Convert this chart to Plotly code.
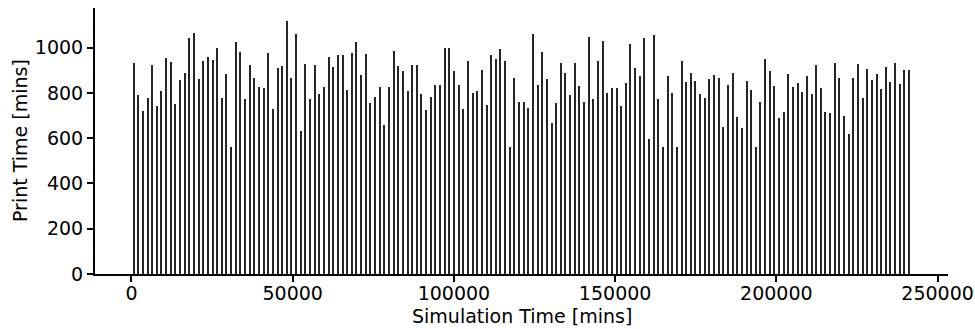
import plotly.graph_objects as go

# Simulation time (mins) of each print job start: one job per day, first at 720
sim_time = [
    720, 2160, 3600, 5040, 6480, 7920, 9360, 10800, 12240, 13680,
    15120, 16560, 18000, 19440, 20880, 22320, 23760, 25200, 26640, 28080,
    29520, 30960, 32400, 33840, 35280, 36720, 38160, 39600, 41040, 42480,
    43920, 45360, 46800, 48240, 49680, 51120, 52560, 54000, 55440, 56880,
    58320, 59760, 61200, 62640, 64080, 65520, 66960, 68400, 69840, 71280,
    72720, 74160, 75600, 77040, 78480, 79920, 81360, 82800, 84240, 85680,
    87120, 88560, 90000, 91440, 92880, 94320, 95760, 97200, 98640, 100080,
    101520, 102960, 104400, 105840, 107280, 108720, 110160, 111600, 113040, 114480,
    115920, 117360, 118800, 120240, 121680, 123120, 124560, 126000, 127440, 128880,
    130320, 131760, 133200, 134640, 136080, 137520, 138960, 140400, 141840, 143280,
    144720, 146160, 147600, 149040, 150480, 151920, 153360, 154800, 156240, 157680,
    159120, 160560, 162000, 163440, 164880, 166320, 167760, 169200, 170640, 172080,
    173520, 174960, 176400, 177840, 179280, 180720, 182160, 183600, 185040, 186480,
    187920, 189360, 190800, 192240, 193680, 195120, 196560, 198000, 199440, 200880,
    202320, 203760, 205200, 206640, 208080, 209520, 210960, 212400, 213840, 215280,
    216720, 218160, 219600, 221040, 222480, 223920, 225360, 226800, 228240, 229680,
    231120, 232560, 234000, 235440, 236880, 238320, 239760, 241200,
]

# Print time (mins) of each job
print_time = [
    933, 790, 718, 777, 925, 740, 809, 954, 935, 753,
    856, 889, 1044, 1066, 860, 939, 958, 945, 998, 777,
    882, 560, 1027, 982, 771, 923, 864, 824, 820, 978,
    727, 908, 918, 1118, 864, 1062, 630, 929, 771, 925,
    796, 827, 960, 914, 966, 966, 815, 975, 1025, 880,
    970, 755, 781, 827, 656, 827, 984, 918, 898, 809,
    925, 922, 794, 725, 783, 836, 833, 1000, 1000, 898,
    833, 727, 942, 801, 808, 901, 747, 966, 951, 994,
    942, 560, 867, 762, 762, 734, 1059, 837, 982, 862,
    667, 756, 933, 889, 790, 933, 830, 761, 1048, 771,
    939, 1029, 801, 820, 823, 740, 842, 1015, 910, 874,
    1044, 598, 1054, 774, 560, 874, 801, 560, 939, 848,
    889, 854, 794, 778, 862, 880, 868, 651, 837, 889,
    694, 644, 854, 811, 560, 759, 948, 895, 830, 687,
    715, 885, 827, 845, 802, 876, 794, 925, 821, 715,
    709, 933, 867, 696, 620, 868, 927, 778, 907, 856,
    882, 818, 913, 848, 931, 840, 899, 899,
]

x_ticks = [0, 50000, 100000, 150000, 200000, 250000]
y_ticks = [0, 200, 400, 600, 800, 1000]

FONT = "DejaVu Sans"
FS = 19

fig = go.Figure(
    go.Bar(
        x=sim_time,
        y=print_time,
        width=420,
        marker=dict(color="#262626", line=dict(width=0)),
        showlegend=False,
    )
)

fig.update_layout(
    width=975,
    height=329,
    margin=dict(l=95, r=27, t=8, b=55, autoexpand=False),
    paper_bgcolor="white",
    plot_bgcolor="white",
    font=dict(family=FONT, size=FS, color="black"),
    bargap=0,
    annotations=[
        dict(
            text="Simulation Time [mins]",
            xref="paper", yref="paper",
            x=0.5, y=0, yshift=-42,
            xanchor="center", yanchor="middle",
            showarrow=False,
            font=dict(family=FONT, size=FS, color="black"),
        ),
        dict(
            text="Print Time [mins]",
            xref="paper", yref="paper",
            x=0, xshift=-75, y=0.5,
            xanchor="center", yanchor="middle",
            textangle=-90,
            showarrow=False,
            font=dict(family=FONT, size=FS, color="black"),
        ),
    ],
)

fig.update_xaxes(
    range=[-11304, 253224],
    tickvals=x_ticks,
    ticktext=[str(v) for v in x_ticks],
    automargin=False,
    showgrid=False,
    zeroline=False,
    showline=True,
    linecolor="black",
    linewidth=2,
    ticks="outside",
    ticklen=6,
    tickwidth=2,
    tickcolor="black",
    ticklabelstandoff=-5,
    tickfont=dict(family=FONT, size=FS, color="black"),
)

fig.update_yaxes(
    range=[0, 1175],
    tickvals=y_ticks,
    ticktext=[str(v) for v in y_ticks],
    automargin=False,
    showgrid=False,
    zeroline=False,
    showline=True,
    linecolor="black",
    linewidth=2,
    ticks="outside",
    ticklen=6,
    tickwidth=2,
    tickcolor="black",
    tickfont=dict(family=FONT, size=FS, color="black"),
)

fig.write_html("out.html")
